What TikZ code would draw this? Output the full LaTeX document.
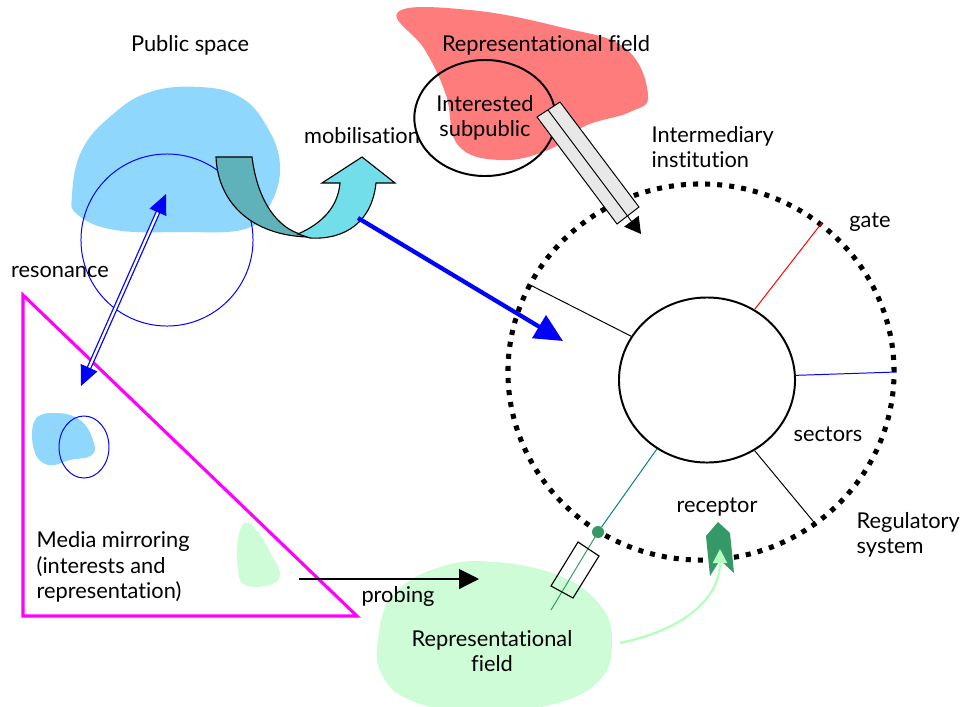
\documentclass[tikz,border=0pt]{standalone}
\usepackage{fontspec}
\setmainfont{Lato}[Ligatures=NoCommon]
\usetikzlibrary{positioning,arrows.meta,shapes.geometric}
\definecolor{publicblue}{RGB}{143,215,252}
\definecolor{fieldred}{RGB}{255,124,124}
\definecolor{fieldgreen}{RGB}{206,252,214}
\definecolor{backteal}{RGB}{95,178,186}
\definecolor{frontcyan}{RGB}{114,222,234}
\definecolor{recgreen}{RGB}{52,153,102}
\definecolor{arrowgreen}{RGB}{180,255,190}
\definecolor{spoketeal}{RGB}{0,128,128}
\definecolor{mirrorpink}{RGB}{255,0,255}
\tikzset{
  lbl/.style={font=\fontsize{15.5}{18}\selectfont, inner sep=1pt, align=center},
  ringdots/.style={draw, ellipse, line width=3.6pt, dash pattern=on 3.6pt off 5pt},
  corebox/.style={draw, ellipse, line width=1.4pt},
  spoke/.style={line width=0.7pt},
  pushed/.style={-{Triangle[length=7mm,width=6.5mm]}, line width=3pt, draw=blue},
  echo/.style={{Triangle[length=5mm,width=4.5mm]}-{Triangle[length=5mm,width=4.5mm]}, draw=blue, double=white, double distance=1.6pt, line width=0.9pt},
  probe/.style={-{Triangle[length=5mm,width=5mm]}, line width=0.8pt},
  tubebox/.style={draw, fill=black!9, line width=0.7pt},
  tubearrow/.style={-{Triangle[length=4mm,width=4.5mm]}, line width=0.7pt}
}

\begin{document}
\begin{tikzpicture}[x=0.025cm, y=-0.025cm]
  \useasboundingbox (0,0) rectangle (960,706);

  % blobs
  \fill[publicblue] plot[smooth cycle, tension=0.7] coordinates {(72,195) (82,150) (112,115) (150,92) (200,87) (240,97) (266,125) (280,165) (270,205) (245,229) (180,232) (115,230) (78,215)};
  \fill[fieldred] plot[smooth cycle, tension=0.7] coordinates {(398,12) (470,10) (560,27) (625,48) (648,95) (630,112) (585,126) (548,150) (500,160) (458,145) (446,95) (425,50)};
  \fill[fieldgreen] plot[smooth cycle, tension=0.7] coordinates {(378,640) (393,595) (440,567) (495,562) (560,576) (600,605) (612,640) (600,680) (550,705) (470,712) (410,700) (382,675)};
  \fill[publicblue] plot[smooth cycle, tension=0.7] coordinates {(35,420) (56,413) (80,420) (93,440) (92,455) (70,460) (48,465) (34,450)};
  \fill[fieldgreen] plot[smooth cycle, tension=0.7] coordinates {(245,523) (258,532) (272,556) (280,574) (270,585) (245,585) (238,570) (238,540)};

  % circles
  \node[draw=blue, circle, minimum size=4.3cm, line width=0.7pt] (publiccirc) at (167,240) {};
  \node[draw=blue, ellipse, minimum width=1.25cm, minimum height=1.55cm, line width=0.7pt] (smallcirc) at (84,447) {};
  \node[corebox, minimum width=3.1cm, minimum height=2.9cm, lbl] (subpublic) at (485,118) {Interested\\subpublic};
  \node[ringdots, minimum width=9.65cm, minimum height=9.4cm] (ring) at (701,372) {};
  \node[corebox, minimum width=4.4cm, minimum height=4.125cm] (core) at (707,380) {};

  % mirror triangle
  \draw[mirrorpink, line width=2.2pt] (23,295) -- (23,616) -- (357,616) -- cycle;

  % spokes
  \draw[spoke] (core.150) -- (ring.153);
  \draw[spoke, red] (core.56) -- (ring.51);
  \draw[spoke, blue] (core.3) -- (ring.0);
  \draw[spoke] (core.-56) -- (ring.-53);
  \coordinate (probeend) at (551,610);
  \node[circle, fill=recgreen, inner sep=0pt, minimum size=0.3cm] (probedot) at (598,532) {};
  \draw[spoke, spoketeal] (core.-126) -- (probedot);
  \draw[spoke, recgreen] (probedot) -- (probeend);
  \draw[line width=0.8pt] (578,542) -- (599,556) -- (573,598) -- (551,586) -- cycle;

  % tube into the institution
  \draw[tubebox] (537,117) -- (560,102) -- (639,207) -- (617,224) -- cycle;
  \coordinate (tubeS) at (548,110);
  \coordinate (tubeT) at (641,234);
  \draw[tubearrow] (tubeS) -- (tubeT);

  % mobilisation u-turn
  \draw[fill=backteal, line width=0.8pt] (216,157) -- (252,157) .. controls (258,205) and (280,228) .. (300,234) -- (318,237) .. controls (255,239) and (218,205) .. (216,157) -- cycle;
  \draw[fill=frontcyan, line width=0.8pt] (298,234) .. controls (325,222) and (338,205) .. (340,183) -- (322,183) -- (362,157) -- (395,183) -- (376,183) .. controls (372,222) and (345,240) .. (310,238) -- cycle;

  % arrows
  \coordinate (resA) at (166,194);
  \coordinate (resB) at (81,386);
  \draw[echo] (resB) -- (resA);
  \coordinate (mobS) at (358,218);
  \coordinate (mobT) at (563,341);
  \draw[pushed] (mobS) -- (mobT);
  \coordinate (probS) at (299,579);
  \coordinate (probT) at (479,579);
  \draw[probe] (probS) -- (probT);

  % receptor
  \fill[recgreen] (718,522) -- (730,533) -- (734,573) -- (720,560) -- (710,576) -- (706,536) -- cycle;
  \coordinate (recS) at (620,643);
  \coordinate (recT) at (720,549);
  \draw[arrowgreen, line width=1.6pt, -{Triangle[length=3.5mm,width=3.5mm]}] (recS) .. controls (690,628) and (720,595) .. (recT);

  % labels
  \node[lbl] (publicspace) at (190,45) {Public space};
  \node[lbl] (topfield) at (546,45) {Representational field};
  \node[lbl] (mobil) at (362,136) {mobilisation};
  \node[lbl, anchor=west, align=left] (institution) at (650,147) {Intermediary\\institution};
  \node[lbl] (gate) at (870,222) {gate};
  \node[lbl] (resonance) at (60,272) {resonance};
  \node[lbl] (sectors) at (828,434) {sectors};
  \node[lbl] (receptor) at (717,507) {receptor};
  \node[lbl, anchor=west, align=left] (regsys) at (855,535) {Regulatory\\system};
  \node[lbl, anchor=west, align=left] (mirroring) at (35,567) {Media mirroring\\(interests and\\representation)};
  \node[lbl] (probing) at (398,596) {probing};
  \node[lbl] (lowfield) at (492,651) {Representational\\field};
\end{tikzpicture}
\end{document}
